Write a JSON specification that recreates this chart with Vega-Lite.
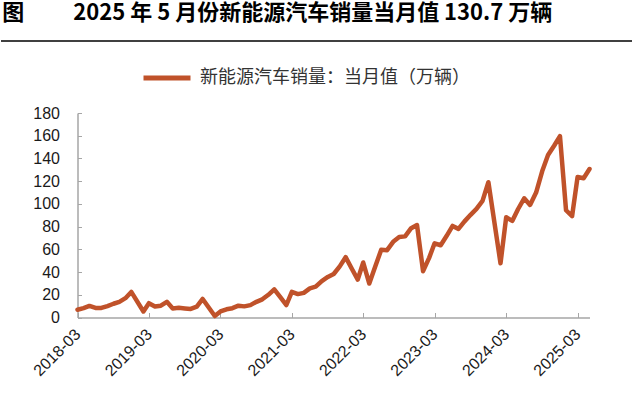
{
  "$schema": "https://vega.github.io/schema/vega-lite/v6.json",
  "padding": {"top": 2, "left": 0, "right": 0, "bottom": 0},
  "autosize": {"type": "pad"},
  "background": "white",
  "columns": 1,
  "bounds": "full",
  "spacing": 10,
  "config": {"view": {"stroke": null}, "font": "Liberation Sans"},
  "resolve": {"scale": {"color": "independent"}, "legend": {"color": "independent"}},
  "concat": [
    {
      "width": 632,
      "height": 12,
      "data": {"values": [{}]},
      "title": {"text": "图　　 2025 年 5 月份新能源汽车销量当月值 130.7 万辆", "anchor": "start", "dx": 2, "font": "Noto Sans CJK SC", "fontSize": 22, "fontWeight": "bold", "color": "#000000", "offset": 4},
      "mark": {"type": "rule", "color": "#000000", "strokeWidth": 1.5},
      "encoding": {"y": {"datum": 0, "type": "quantitative", "scale": {"domain": [0, 1]}, "axis": null}}
    },
    {
      "width": 632,
      "height": 204.5,
      "data": {"values": [
        {"month": "2018-03-01", "value": 6.8}, {"month": "2018-04-01", "value": 8.2}, {"month": "2018-05-01", "value": 10.2}, {"month": "2018-06-01", "value": 8.4}, {"month": "2018-07-01", "value": 8.4}, {"month": "2018-08-01", "value": 10.1}, {"month": "2018-09-01", "value": 12.1}, {"month": "2018-10-01", "value": 13.8}, {"month": "2018-11-01", "value": 17.0}, {"month": "2018-12-01", "value": 22.5},
        {"month": "2019-02-01", "value": 5.3}, {"month": "2019-03-01", "value": 12.6}, {"month": "2019-04-01", "value": 9.7}, {"month": "2019-05-01", "value": 10.4}, {"month": "2019-06-01", "value": 13.8}, {"month": "2019-07-01", "value": 8.0}, {"month": "2019-08-01", "value": 8.5}, {"month": "2019-09-01", "value": 8.0}, {"month": "2019-10-01", "value": 7.5}, {"month": "2019-11-01", "value": 9.5}, {"month": "2019-12-01", "value": 16.3},
        {"month": "2020-02-01", "value": 1.3}, {"month": "2020-03-01", "value": 5.3}, {"month": "2020-04-01", "value": 7.2}, {"month": "2020-05-01", "value": 8.2}, {"month": "2020-06-01", "value": 10.4}, {"month": "2020-07-01", "value": 9.8}, {"month": "2020-08-01", "value": 10.9}, {"month": "2020-09-01", "value": 13.8}, {"month": "2020-10-01", "value": 16.0}, {"month": "2020-11-01", "value": 20.0}, {"month": "2020-12-01", "value": 24.8},
        {"month": "2021-01-01", "value": 17.9}, {"month": "2021-02-01", "value": 11.0}, {"month": "2021-03-01", "value": 22.6}, {"month": "2021-04-01", "value": 20.6}, {"month": "2021-05-01", "value": 21.7}, {"month": "2021-06-01", "value": 25.6}, {"month": "2021-07-01", "value": 27.1}, {"month": "2021-08-01", "value": 32.1}, {"month": "2021-09-01", "value": 35.7}, {"month": "2021-10-01", "value": 38.3}, {"month": "2021-11-01", "value": 45.0}, {"month": "2021-12-01", "value": 53.1},
        {"month": "2022-01-01", "value": 43.1}, {"month": "2022-02-01", "value": 33.4}, {"month": "2022-03-01", "value": 48.4}, {"month": "2022-04-01", "value": 29.9}, {"month": "2022-05-01", "value": 44.7}, {"month": "2022-06-01", "value": 59.6}, {"month": "2022-07-01", "value": 59.3}, {"month": "2022-08-01", "value": 66.6}, {"month": "2022-09-01", "value": 70.8}, {"month": "2022-10-01", "value": 71.4}, {"month": "2022-11-01", "value": 78.6}, {"month": "2022-12-01", "value": 81.4},
        {"month": "2023-01-01", "value": 40.8}, {"month": "2023-02-01", "value": 52.5}, {"month": "2023-03-01", "value": 65.3}, {"month": "2023-04-01", "value": 63.6}, {"month": "2023-05-01", "value": 71.7}, {"month": "2023-06-01", "value": 80.6}, {"month": "2023-07-01", "value": 78.0}, {"month": "2023-08-01", "value": 84.6}, {"month": "2023-09-01", "value": 90.4}, {"month": "2023-10-01", "value": 95.6}, {"month": "2023-11-01", "value": 102.6}, {"month": "2023-12-01", "value": 119.1},
        {"month": "2024-02-01", "value": 47.7}, {"month": "2024-03-01", "value": 88.3}, {"month": "2024-04-01", "value": 85.0}, {"month": "2024-05-01", "value": 95.5}, {"month": "2024-06-01", "value": 104.9}, {"month": "2024-07-01", "value": 99.1}, {"month": "2024-08-01", "value": 110.0}, {"month": "2024-09-01", "value": 128.7}, {"month": "2024-10-01", "value": 143.0}, {"month": "2024-11-01", "value": 151.2}, {"month": "2024-12-01", "value": 159.6},
        {"month": "2025-01-01", "value": 94.4}, {"month": "2025-02-01", "value": 89.2}, {"month": "2025-03-01", "value": 123.7}, {"month": "2025-04-01", "value": 122.6}, {"month": "2025-05-01", "value": 130.7}
      ]},
      "mark": {"type": "line", "strokeWidth": 4.5, "strokeJoin": "round", "strokeCap": "round"},
      "encoding": {
        "x": {
          "field": "month", "type": "temporal",
          "scale": {"domain": [{"year": 2018, "month": 3, "date": 1, "utc": true}, {"year": 2025, "month": 5, "date": 1, "utc": true}], "range": [76.5, 588.5]},
          "axis": {
            "title": null, "grid": false,
            "values": [
              {"year": 2018, "month": 3, "date": 1, "utc": true}, {"year": 2019, "month": 3, "date": 1, "utc": true}, {"year": 2020, "month": 3, "date": 1, "utc": true}, {"year": 2021, "month": 3, "date": 1, "utc": true},
              {"year": 2022, "month": 3, "date": 1, "utc": true}, {"year": 2023, "month": 3, "date": 1, "utc": true}, {"year": 2024, "month": 3, "date": 1, "utc": true}, {"year": 2025, "month": 3, "date": 1, "utc": true}
            ],
            "labelExpr": "utcFormat(datum.value, '%Y-%m')",
            "labelAngle": -45, "labelAlign": "right", "labelBaseline": "middle",
            "labelFontSize": 16, "labelColor": "#1a1a1a", "labelPadding": 19,
            "domainColor": "#a6a6a6", "domainWidth": 1.5,
            "tickColor": "#a6a6a6", "tickSize": -5, "tickWidth": 1,
            "labelFlush": false, "labelOverlap": false
          }
        },
        "y": {
          "field": "value", "type": "quantitative",
          "scale": {"domain": [0, 180], "nice": false},
          "axis": {
            "values": [0, 20, 40, 60, 80, 100, 120, 140, 160, 180],
            "title": null, "offset": -76.5,
            "grid": false,
            "labelFontSize": 16, "labelColor": "#1a1a1a", "labelPadding": 22,
            "domainColor": "#a6a6a6", "domainWidth": 1.5,
            "tickColor": "#a6a6a6", "tickSize": -4, "tickWidth": 1
          }
        },
        "color": {
          "datum": "新能源汽车销量：当月值（万辆）",
          "scale": {"range": ["#c0522a"]},
          "legend": {
            "title": null, "orient": "none", "legendX": 140, "legendY": -61,
            "padding": 0, "symbolType": "stroke", "symbolSize": 2209, "symbolStrokeWidth": 5,
            "labelFont": "Noto Sans CJK SC", "labelFontSize": 18, "labelColor": "#333333", "labelOffset": 7, "labelLimit": 400
          }
        }
      }
    }
  ]
}
